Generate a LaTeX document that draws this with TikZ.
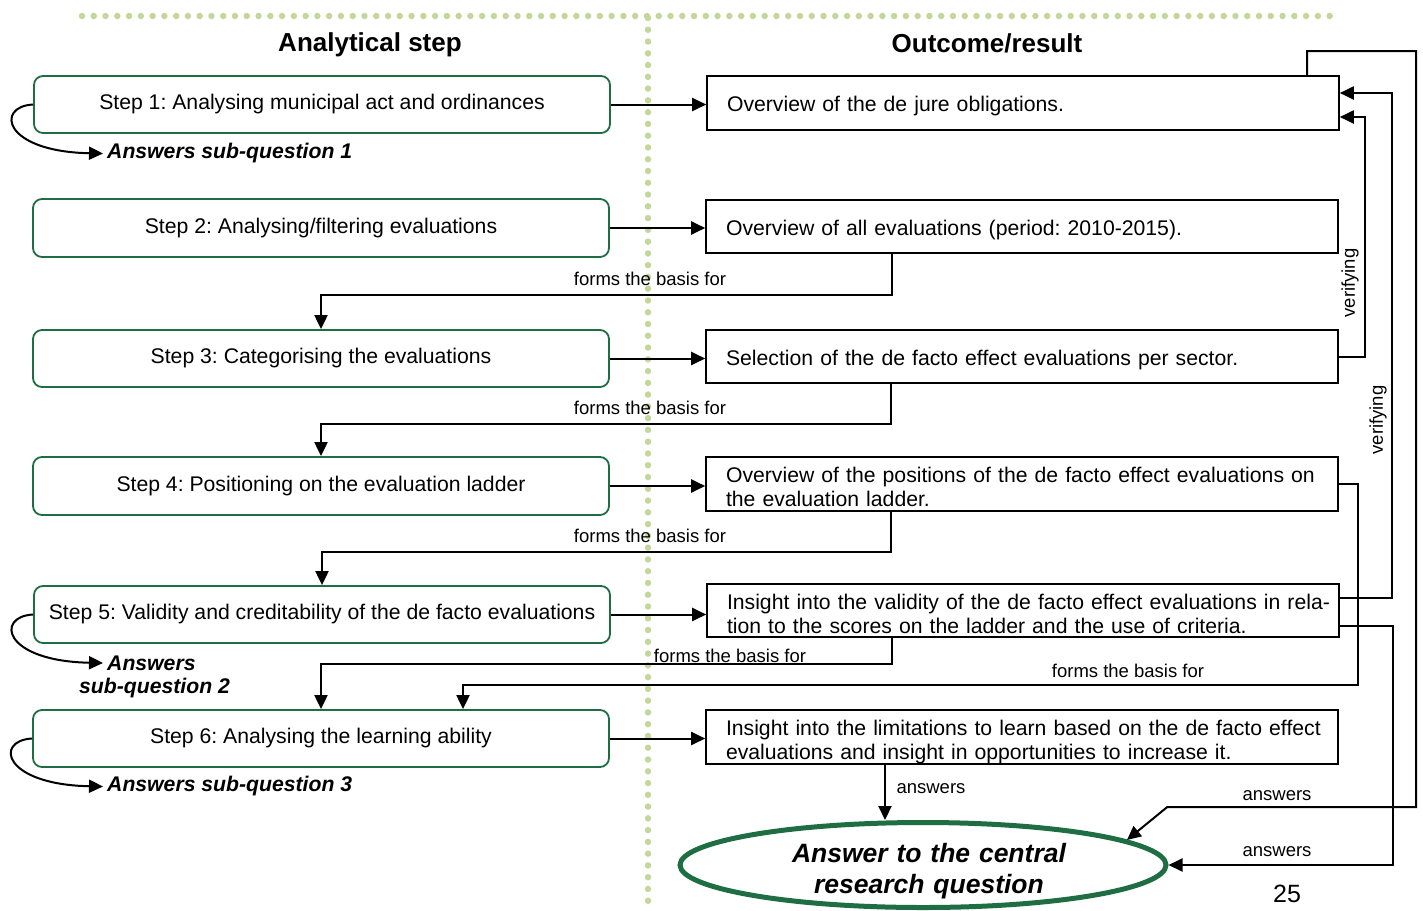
\documentclass[tikz,border=0pt]{standalone}
\usepackage{fontspec}
\setmainfont{Liberation Sans}
\usetikzlibrary{arrows.meta,shapes.geometric,calc}
\definecolor{boxgreen}{RGB}{31,110,67}
\definecolor{dotgreen}{RGB}{196,215,155}
\newcommand\mainsz{\fontsize{21.2}{24}\selectfont}
\frenchspacing
\begin{document}
\begin{tikzpicture}[x=1pt,y=-1pt,
  stepbox/.style={draw=boxgreen, line width=1.8pt, rounded corners=9pt,
    minimum width=576pt, inner sep=0pt, font=\mainsz},
  resbox/.style={draw=black, line width=1.6pt, text width=592pt,
    inner xsep=20pt, inner ysep=0pt, align=left, font=\mainsz},
  oneline/.style={text height=20pt, text depth=2.2pt},
  twoline/.style={text height=10pt, text depth=12.5pt},
  arr/.style={line width=2pt, -{Triangle[length=14pt,width=13pt]}},
  lbl/.style={font=\fontsize{18.5}{22}\selectfont, inner sep=1pt},
  subq/.style={font=\bfseries\itshape\fontsize{21.2}{25}\selectfont, inner xsep=4pt, inner ysep=1pt},
  dots/.style={dotgreen, line width=6.5pt, line cap=round, dash pattern=on 0pt off 11.77pt}
]
\useasboundingbox (0,0) rectangle (1423,910);

% dotted separators
\draw[dots] (82,16) -- (1330,16);
\draw[dots] (648,18) -- (648,912);

% column headers
\node[font=\bfseries\fontsize{26}{30}\selectfont] (H1) at (370,45) {Analytical step};
\node[font=\bfseries\fontsize{26}{30}\selectfont] (H2) at (987,43) {Outcome/result};

% analytical steps
\node[stepbox, minimum height=57pt] (S1) at (322,104.5) {Step 1: Analysing municipal act and ordinances};
\node[stepbox, minimum height=58pt] (S2) at (321,228) {Step 2: Analysing/filtering evaluations};
\node[stepbox, minimum height=57pt] (S3) at (321,358.5) {Step 3: Categorising the evaluations};
\node[stepbox, minimum height=58pt] (S4) at (321,486) {Step 4: Positioning on the evaluation ladder};
\node[stepbox, minimum height=57pt] (S5) at (322,614.5) {Step 5: Validity and creditability of the de facto evaluations};
\node[stepbox, minimum height=57pt] (S6) at (321,738.5) {Step 6: Analysing the learning ability};

% outcomes
\node[resbox, oneline, minimum height=54pt] (R1) at (1023,103) {Overview of the de jure obligations.};
\node[resbox, oneline, minimum height=53pt] (R2) at (1022,226.5) {Overview of all evaluations (period: 2010-2015).};
\node[resbox, oneline, minimum height=53pt] (R3) at (1022,356.5) {Selection of the de facto effect evaluations per sector.};
\node[resbox, twoline, minimum height=54pt] (R4) at (1022,484) {\makebox[592pt][s]{Overview of the positions of the de facto effect evaluations on}\\the evaluation ladder.};
\node[resbox, twoline, minimum height=53pt] (R5) at (1023,610.5) {\makebox[592pt][s]{Insight into the validity of the de facto effect evaluations in rela-}\\tion to the scores on the ladder and the use of criteria.};
\node[resbox, twoline, minimum height=54pt] (R6) at (1022,737) {\makebox[592pt][s]{Insight into the limitations to learn based on the de facto effect}\\evaluations and insight in opportunities to increase it.};

% central answer
\node[draw=boxgreen, line width=5pt, ellipse, minimum width=486pt, minimum height=85pt,
  inner sep=0pt, text width=300pt, align=center, text height=20pt, text depth=25pt,
  font=\bfseries\itshape\fontsize{26.5}{31}\selectfont]
  (E) at (923,865) {\hspace*{12pt}Answer to the central\\\hspace*{12pt}research question};

% step -> outcome
\foreach \i in {1,...,6}
  \draw[arr] (S\i.east) -- (S\i.east -| R\i.west);

% "forms the basis for" links
\draw[arr] ($(R2.south)+(-130,0)$) -- ++(0,41) -| (S3.north);
\draw[arr] ($(R3.south)+(-131,0)$) -- ++(0,40) -| (S4.north);
\draw[arr] ($(R4.south)+(-131,0)$) -- ++(0,40) -| (S5.north);
\draw[arr] ($(R5.south)+(-131,0)$) -- ++(0,26) -| (S6.north);
\draw[arr] (R4.east) -- ++(19,0) -- ++(0,201) -| ($(S6.north)+(142,0)$);
\node[lbl] (L1) at (650,279) {forms the basis for};
\node[lbl] (L2) at (650,408) {forms the basis for};
\node[lbl] (L3) at (650,536) {forms the basis for};
\node[lbl] (L4) at (730,656) {forms the basis for};
\node[lbl] (L5) at (1128,671) {forms the basis for};

% verifying links
\draw[arr] (R3.east) -- ++(26,0) |- ($(R1.east)+(0,14)$);
\draw[arr] ($(R5.east)+(0,-12.5)$) -- ++(52,0) |- ($(R1.east)+(0,-10)$);
\node[lbl, rotate=90] (V1) at (1350,283) {verifying};
\node[lbl, rotate=90] (V2) at (1378,420) {verifying};

% answers links
\draw[arr] ($(R1.north)+(284,0)$) -- ++(0,-24) -- ++(109,0) -- ++(0,756) -- ++(-249,0) -- (E.7);
\draw[arr] ($(R5.east)+(0,15.5)$) -- ++(53,0) |- (E.east);
\coordinate (A3) at ($(R6.south)+(-137,0)$);
\draw[arr] (A3) -- (A3 |- E.north);
\node[lbl] (N1) at (931,789) {answers};
\node[lbl] (N2) at (1277,796) {answers};
\node[lbl] (N3) at (1277,852) {answers};

% sub-questions
\node[subq, anchor=west] (Q1) at (103,153.5) {Answers sub-question 1};
\node[subq, anchor=west] (Q2) at (103,663) {Answers};
\node[subq] (Q2b) at (154.5,688.5) {sub-question 2};
\node[subq, anchor=west] (Q3) at (103,786.5) {Answers sub-question 3};
\draw[arr] (S1.west) .. controls +(-38,2) and +(-100,-2) .. (Q1.west);
\draw[arr] (S5.west) .. controls +(-38,2) and +(-100,-2) .. (Q2.west);
\draw[arr] (S6.west) .. controls +(-38,2) and +(-100,-2) .. (Q3.west);

% page number
\node[font=\fontsize{25}{30}\selectfont] (P) at (1287,894) {25};
\end{tikzpicture}
\end{document}
